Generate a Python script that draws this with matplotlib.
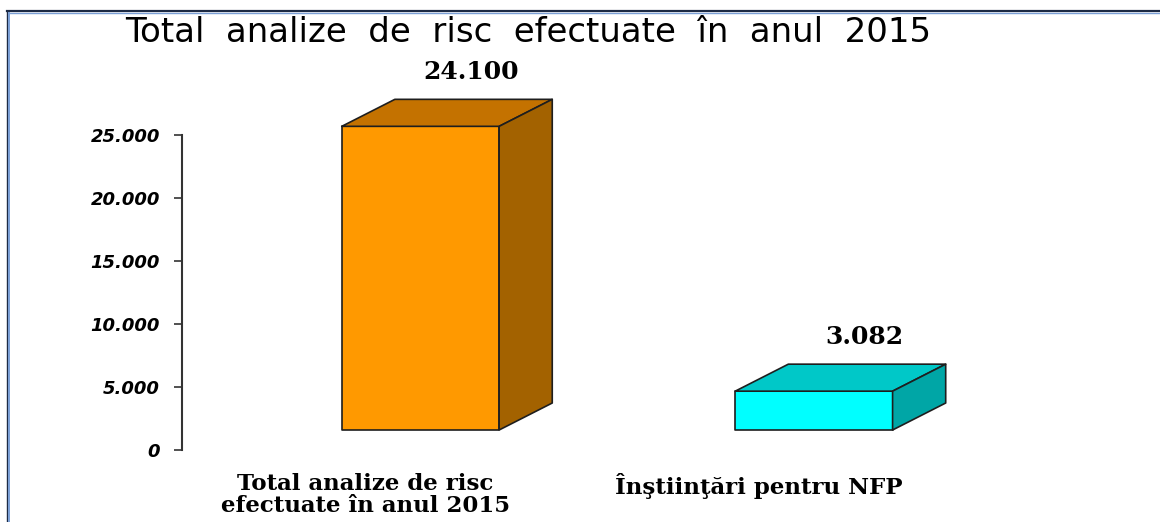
import numpy as np
import matplotlib
matplotlib.use("Agg")
import matplotlib.pyplot as plt
from matplotlib.patches import Polygon
from matplotlib.lines import Line2D
from matplotlib.ticker import FuncFormatter

# date
categories = ["Total analize de risc\nefectuate în anul 2015", "Înştiinţări pentru NFP"]
values = [24100, 3082]
value_labels = ["24.100", "3.082"]
y_ticks = [0, 5000, 10000, 15000, 20000, 25000]

front_colors = ["#ff9900", "#00ffff"]
top_colors = ["#c47200", "#00c8c8"]
side_colors = ["#a36200", "#00a6a6"]

W, H = 1160, 522
fig = plt.figure(figsize=(W / 100, H / 100), dpi=100)
ax = fig.add_axes([182 / W, (H - 450) / H, (1000 - 182) / W, 315 / H])

ax.set_ylim(0, 25000)
ax.set_xlim(-0.606, 1.473)

# geometria "3D" (in unitati de axa)
bar_w = 0.40
dx = 0.135
dy = 2143
floor = 1587
edge = "#1e1e1e"

for i, v in enumerate(values):
    x0, x1 = i - bar_w / 2, i + bar_w / 2
    y0, y1 = floor, floor + v
    front = [(x0, y0), (x1, y0), (x1, y1), (x0, y1)]
    top = [(x0, y1), (x1, y1), (x1 + dx, y1 + dy), (x0 + dx, y1 + dy)]
    side = [(x1, y0), (x1 + dx, y0 + dy), (x1 + dx, y1 + dy), (x1, y1)]
    for pts, c in [(front, front_colors[i]), (top, top_colors[i]), (side, side_colors[i])]:
        ax.add_patch(Polygon(pts, closed=True, facecolor=c, edgecolor=edge,
                             linewidth=1.2, clip_on=False, joinstyle="round"))
    ax.text(i + 0.128, y1 + 2 * dy, value_labels[i], ha="center", va="center",
            fontsize=18, fontweight="bold", family="DejaVu Serif", clip_on=False)
    ax.text(i - 0.14, -1850, categories[i], ha="center", va="top",
            fontsize=16.5, fontweight="bold", family="DejaVu Serif",
            linespacing=0.98)

for s in ["top", "right", "bottom"]:
    ax.spines[s].set_visible(False)
ax.spines["left"].set_color("#333333")
ax.spines["left"].set_linewidth(1.5)
ax.set_xticks([])
ax.set_yticks(y_ticks)
ax.yaxis.set_major_formatter(FuncFormatter(lambda v, p: f"{int(v):,}".replace(",", ".")))
ax.tick_params(axis="y", length=6, width=1.2, color="#333333", pad=10)
for lbl in ax.get_yticklabels():
    lbl.set_fontsize(13)
    lbl.set_fontweight("bold")
    lbl.set_fontstyle("italic")
    lbl.set_family("DejaVu Sans")

fig.text(528 / W, 1 - 32 / H, "Total  analize  de  risc  efectuate  în  anul  2015",
         ha="center", va="center", fontsize=24.5, family="DejaVu Sans")

# chenar (sus si stanga)
fig.add_artist(Line2D([7 / W, 1], [1 - 10.5 / H] * 2, color="#1c2a44", lw=1.6, transform=fig.transFigure))
fig.add_artist(Line2D([8.5 / W, 1], [1 - 12.5 / H] * 2, color="#7a9fd6", lw=1.0, transform=fig.transFigure))
fig.add_artist(Line2D([7 / W] * 2, [0, 1 - 10.5 / H], color="#1c2a44", lw=1.0, transform=fig.transFigure))
fig.add_artist(Line2D([8.5 / W] * 2, [0, 1 - 12.5 / H], color="#7a9fd6", lw=1.4, transform=fig.transFigure))

fig.savefig("out.png", dpi=100)
